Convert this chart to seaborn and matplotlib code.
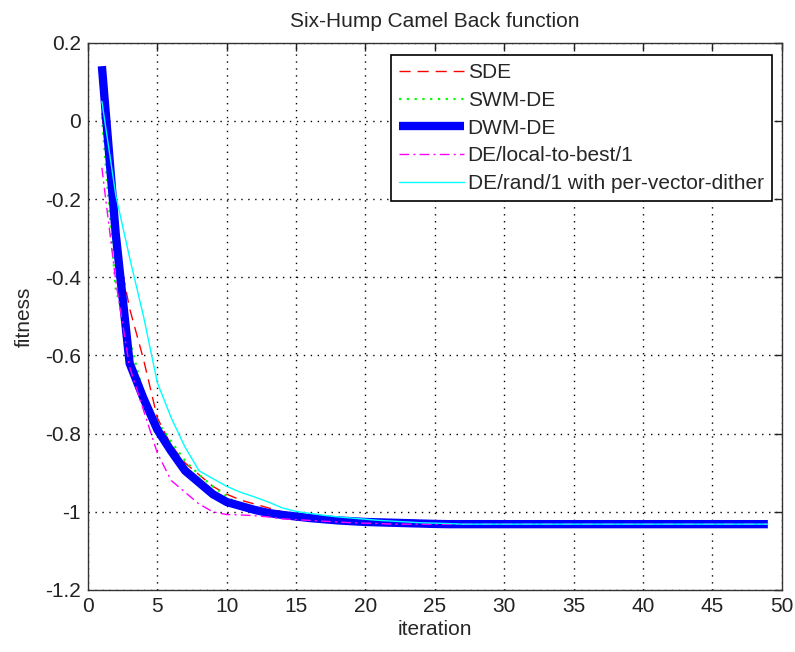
import matplotlib
matplotlib.use("Agg")
import matplotlib.pyplot as plt
import seaborn as sns
import numpy as np
import pandas as pd
from matplotlib.ticker import FuncFormatter

iterations = list(range(1, 50))

sde = [0.02, -0.30, -0.48, -0.61, -0.76, -0.83, -0.875, -0.905, -0.935, -0.955,
       -0.97, -0.98, -0.99, -1.0, -1.005, -1.01, -1.016, -1.021, -1.025, -1.027,
       -1.029, -1.03] + [-1.0316] * 27
swm_de = [0.01, -0.43, -0.56, -0.70, -0.77, -0.82, -0.87, -0.905, -0.935, -0.96,
          -0.985, -0.995, -1.003, -1.009, -1.014, -1.018, -1.022, -1.025, -1.028, -1.03] + [-1.0316] * 29
dwm_de = [0.14, -0.29, -0.62, -0.71, -0.79, -0.845, -0.895, -0.925, -0.955, -0.975,
          -0.985, -0.995, -1.003, -1.008, -1.012, -1.016, -1.019, -1.022, -1.024, -1.026,
          -1.027, -1.028, -1.029, -1.03, -1.031] + [-1.0316] * 24
local_to_best = [-0.12, -0.41, -0.63, -0.74, -0.85, -0.92, -0.95, -0.98, -1.0, -1.007,
                 -1.008, -1.01, -1.013, -1.018, -1.02, -1.022, -1.024, -1.026, -1.028, -1.029,
                 -1.03] + [-1.0316] * 28
rand_dither = [0.05, -0.19, -0.35, -0.50, -0.67, -0.76, -0.835, -0.895, -0.915, -0.935,
               -0.95, -0.962, -0.975, -0.99, -0.999, -1.004, -1.009, -1.013, -1.016, -1.019,
               -1.022, -1.024, -1.026, -1.028, -1.029, -1.03] + [-1.0316] * 23

labels = ["SDE", "SWM-DE", "DWM-DE", "DE/local-to-best/1", "DE/rand/1 with per-vector-dither"]
x_ticks = list(range(0, 51, 5))
y_ticks = [0.2, 0.0, -0.2, -0.4, -0.6, -0.8, -1.0, -1.2]

sns.set_style("white")
plt.rcParams['font.family'] = ['Liberation Sans', 'DejaVu Sans']

FS = 15

fig = plt.figure(figsize=(7.95, 6.52), dpi=100)
ax = fig.add_axes([0.1107, 0.0951, 0.8726, 0.8394])

series = [sde, swm_de, dwm_de, local_to_best, rand_dither]
styles = [
    dict(color=(1, 0, 0), linestyle=(0, (8, 5)), linewidth=1.0),
    dict(color=(0, 1, 0), linestyle=(0, (1, 2.5)), linewidth=1.6),
    dict(color=(0, 0, 1), linestyle="-", linewidth=6.0, solid_capstyle="butt",
         solid_joinstyle="round"),
    dict(color=(1, 0, 1), linestyle=(0, (7, 3, 1.5, 3)), linewidth=1.0),
    dict(color=(0, 1, 1), linestyle="-", linewidth=1.0),
]
for vals, lab, st in zip(series, labels, styles):
    df = pd.DataFrame({"iteration": iterations, "fitness": vals})
    sns.lineplot(data=df, x="iteration", y="fitness", ax=ax, label=lab, **st)

ax.set_xlim(0, 50)
ax.set_ylim(-1.2, 0.2)
ax.set_xticks(x_ticks)
ax.set_yticks(y_ticks)
ax.yaxis.set_major_formatter(FuncFormatter(lambda v, p: f"{v:g}" if abs(v) > 1e-9 else "0"))
ax.tick_params(direction="in", top=True, right=True, length=6, width=1, labelsize=FS,
               colors="#222222", pad=5)
ax.grid(True, color="black", linestyle=(0, (1, 4)), linewidth=1.0)
for s in ax.spines.values():
    s.set_color("#333333")
    s.set_linewidth(1.0)

ax.set_xlabel("iteration", fontsize=FS, labelpad=3)
ax.set_ylabel("fitness", fontsize=FS, labelpad=8)
ax.set_title("Six-Hump Camel Back function", fontsize=FS, pad=11)

leg = ax.legend(loc="upper right", bbox_to_anchor=(0.986, 0.978), fontsize=FS,
                fancybox=False, framealpha=1, edgecolor="black", handlelength=3.1,
                borderpad=0.4, labelspacing=0.42, handletextpad=0.2, borderaxespad=0)
leg.get_frame().set_linewidth(1.2)

fig.savefig("out.png", dpi=100)
